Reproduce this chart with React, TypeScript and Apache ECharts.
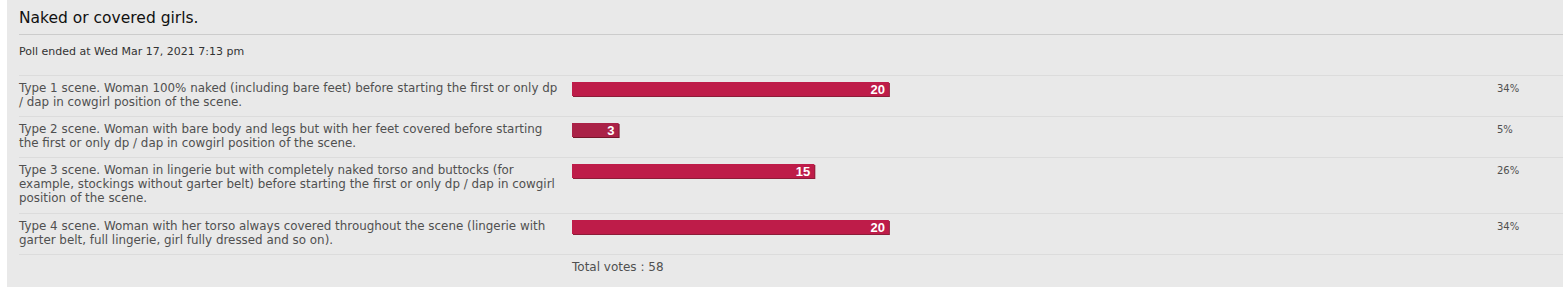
import React, { useEffect, useRef } from "react";
import * as echarts from "echarts";

const title = "Naked or covered girls.";
const subtitle = "Poll ended at Wed Mar 17, 2021 7:13 pm";
const optionTexts = [
  "Type 1 scene. Woman 100% naked (including bare feet) before starting the first or only dp\n/ dap in cowgirl position of the scene.",
  "Type 2 scene. Woman with bare body and legs but with her feet covered before starting\nthe first or only dp / dap in cowgirl position of the scene.",
  "Type 3 scene. Woman in lingerie but with completely naked torso and buttocks (for\nexample, stockings without garter belt) before starting the first or only dp / dap in cowgirl\nposition of the scene.",
  "Type 4 scene. Woman with her torso always covered throughout the scene (lingerie with\ngarter belt, full lingerie, girl fully dressed and so on).",
];
const votes = [20, 3, 15, 20];
const percents = [34, 5, 26, 34];
const totalVotes = 58;

const FONT = "'DejaVu Sans', sans-serif";
const TEXT_COLOR = "#505050";
const BAR_STYLES: Record<number, { fill: string; edge: string }> = {
  1: { fill: "#AA2346", edge: "#74162C" },
  2: { fill: "#BE1E4A", edge: "#8C1C38" },
  3: { fill: "#D11A4E", edge: "#AA2346" },
  4: { fill: "#E41653", edge: "#BE1E4A" },
  5: { fill: "#F81157", edge: "#D11A4E" },
};

export default function App() {
  const ref = useRef<HTMLDivElement>(null);
  useEffect(() => {
    if (!ref.current) return;
    const chart = echarts.init(ref.current, undefined, { renderer: "svg" });

    const barLeft = 572;
    const barAxisWidth = 932; // 100% of axis
    const firstRowTop = 75;
    const rowTops: number[] = [];
    let t = firstRowTop;
    optionTexts.forEach((txt) => {
      rowTops.push(t);
      const lines = txt.split("\n").length;
      t += 15 * lines + 11;
    });
    const lastLine = t;

    const grids: any[] = [];
    const xAxes: any[] = [];
    const yAxes: any[] = [];
    const series: any[] = [];
    const graphics: any[] = [
      { type: "rect", shape: { x: 0, y: 0, width: 7, height: 287 }, style: { fill: "#ffffff" } },
      {
        type: "text",
        x: 19,
        y: 18,
        style: { text: title, font: `15.5px ${FONT}`, fill: "#111", verticalAlign: "middle" },
      },
      { type: "line", shape: { x1: 19, y1: 34.5, x2: 1563, y2: 34.5 }, style: { stroke: "#cccccc", lineWidth: 1 } },
      {
        type: "text",
        x: 19,
        y: 51,
        style: { text: subtitle, font: `11px ${FONT}`, fill: "#333", verticalAlign: "middle" },
      },
      { type: "line", shape: { x1: 19, y1: 75.5, x2: 1563, y2: 75.5 }, style: { stroke: "#dcdcdc", lineWidth: 1 } },
    ];

    optionTexts.forEach((txt, i) => {
      const top = rowTops[i];
      grids.push({ left: barLeft, top: top + 7, width: barAxisWidth, height: 14, containLabel: false });
      xAxes.push({ type: "value", gridIndex: i, min: 0, max: 100, show: false });
      yAxes.push({ type: "category", gridIndex: i, data: [`Option ${i + 1}`], show: false });
      const cls = Math.max(1, Math.ceil(percents[i] / 20));
      const st = BAR_STYLES[cls];
      series.push({
        type: "bar",
        xAxisIndex: i,
        yAxisIndex: i,
        barWidth: 14,
        data: [percents[i]],
        itemStyle: {
          color: st.fill,
          shadowColor: st.edge,
          shadowOffsetX: 1,
          shadowOffsetY: 1,
          shadowBlur: 0,
        },
        label: {
          show: true,
          position: "insideRight",
          distance: 4,
          formatter: () => String(votes[i]),
          color: "#ffffff",
          fontWeight: "bold",
          fontSize: 13,
          fontFamily: "'Liberation Sans', Arial, sans-serif",
        },
        silent: true,
      });
      graphics.push({
        type: "text",
        x: 19,
        y: top + 6,
        style: {
          text: txt,
          font: `11.9px ${FONT}`,
          fill: TEXT_COLOR,
          lineHeight: 14,
          verticalAlign: "top",
        },
      });
      graphics.push({
        type: "text",
        x: 1497,
        y: top + 13,
        style: {
          text: `${percents[i]}%`,
          font: `10px ${FONT}`,
          fill: TEXT_COLOR,
          verticalAlign: "middle",
        },
      });
      const nextTop = i + 1 < rowTops.length ? rowTops[i + 1] : lastLine;
      graphics.push({
        type: "line",
        shape: { x1: 19, y1: nextTop + 0.5, x2: 1563, y2: nextTop + 0.5 },
        style: { stroke: "#dcdcdc", lineWidth: 1 },
      });
    });

    graphics.push({
      type: "text",
      x: barLeft,
      y: lastLine + 13,
      style: {
        text: `Total votes : ${totalVotes}`,
        font: `12px ${FONT}`,
        fill: TEXT_COLOR,
        verticalAlign: "middle",
      },
    });

    chart.setOption({
      animation: false,
      backgroundColor: "#e9e9e9",
      grid: grids,
      xAxis: xAxes,
      yAxis: yAxes,
      series,
      graphic: graphics,
    });
    return () => chart.dispose();
  }, []);
  return (
    <div
      ref={ref}
      style={{ position: "fixed", left: 0, top: 0, width: 1563, height: 287 }}
    />
  );
}
